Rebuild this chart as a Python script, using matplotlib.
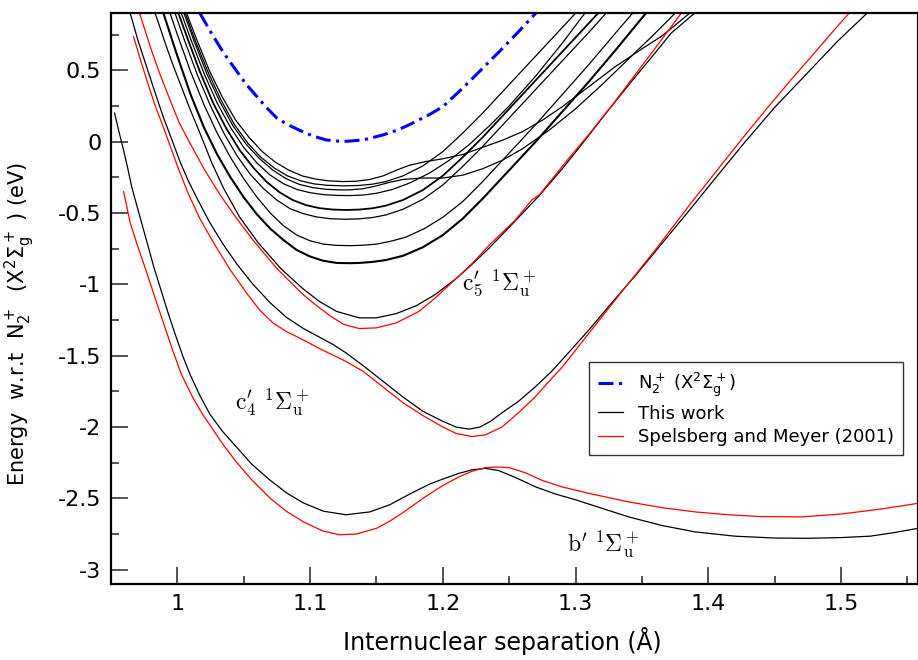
import matplotlib
matplotlib.use("Agg")
import matplotlib.pyplot as plt

plt.rcParams['axes.unicode_minus'] = False
plt.rcParams['font.family'] = 'DejaVu Sans'

# ---- data (x in Angstrom, y in eV) ----
# N2+ X state (blue dash-dot)
ion_x = [1.017, 1.025, 1.035, 1.045, 1.052, 1.06, 1.067, 1.075, 1.083, 1.092, 1.102, 1.112, 1.1245,
         1.14, 1.155, 1.167, 1.177, 1.19, 1.2, 1.215, 1.23, 1.245, 1.258, 1.27]
ion_y = [0.90, 0.77, 0.62, 0.49, 0.40, 0.315, 0.24, 0.165, 0.12, 0.08, 0.04, 0.012, 0.0,
         0.012, 0.047, 0.085, 0.129, 0.19, 0.245, 0.375, 0.514, 0.654, 0.78, 0.90]

# this work: b' state
bp_x = [0.9527, 0.956, 0.9595, 0.9627, 0.9657, 0.971, 0.977, 0.982, 0.988, 0.993, 0.998, 1.004, 1.0095,
        1.017, 1.0245, 1.034, 1.0445, 1.056, 1.0695, 1.082, 1.0945, 1.11, 1.127, 1.145, 1.16, 1.175,
        1.19, 1.2, 1.212, 1.222, 1.232, 1.242, 1.255, 1.27, 1.285, 1.30, 1.32, 1.34, 1.365, 1.39,
        1.42, 1.45, 1.475, 1.50, 1.522, 1.54, 1.558]
bp_y = [0.20, 0.07, -0.06, -0.19, -0.32, -0.50, -0.70, -0.87, -1.05, -1.20, -1.34, -1.50, -1.63,
        -1.78, -1.91, -2.03, -2.14, -2.26, -2.37, -2.46, -2.53, -2.59, -2.615, -2.595, -2.545, -2.47,
        -2.40, -2.365, -2.325, -2.30, -2.29, -2.305, -2.355, -2.42, -2.47, -2.51, -2.57, -2.63, -2.69, -2.735,
        -2.765, -2.778, -2.78, -2.775, -2.765, -2.74, -2.71]

# this work: c'4 state
c4_x = [0.9645, 0.97, 0.977, 0.983, 0.9895, 0.996, 1.002, 1.008, 1.015, 1.024, 1.0345, 1.045, 1.057,
        1.07, 1.082, 1.095, 1.107, 1.117, 1.127, 1.14, 1.155, 1.17, 1.185, 1.2, 1.21, 1.2196, 1.228,
        1.236, 1.2446, 1.257, 1.2695, 1.282, 1.2946, 1.31, 1.33, 1.345, 1.361, 1.387, 1.405, 1.427,
        1.45, 1.4746, 1.497, 1.5196]
c4_y = [0.90, 0.72, 0.52, 0.35, 0.17, 0.01, -0.14, -0.27, -0.40, -0.56, -0.72, -0.86, -1.00,
        -1.13, -1.23, -1.31, -1.37, -1.42, -1.48, -1.57, -1.68, -1.79, -1.89, -1.96, -2.00, -2.015, -2.00,
        -1.96, -1.90, -1.82, -1.72, -1.61, -1.48, -1.32, -1.10, -0.94, -0.76, -0.467, -0.26, -0.01,
        0.24, 0.48, 0.70, 0.90]

# this work: c'5 state
c5_x = [0.9833, 0.988, 0.992, 0.997, 1.002, 1.009, 1.017, 1.026, 1.035, 1.047, 1.061, 1.078, 1.0945,
        1.107, 1.12, 1.137, 1.15, 1.165, 1.18, 1.1945, 1.21, 1.222, 1.235, 1.25, 1.272, 1.29, 1.3046,
        1.323, 1.342, 1.358, 1.372, 1.3896]
c5_y = [0.90, 0.77, 0.66, 0.53, 0.41, 0.24, 0.06, -0.15, -0.33, -0.53, -0.71, -0.89, -1.03,
        -1.12, -1.19, -1.235, -1.235, -1.205, -1.15, -1.07, -0.96, -0.86, -0.745, -0.60, -0.385, -0.19, -0.02,
        0.20, 0.42, 0.60, 0.76, 0.90]

# this work: higher states, named A..G from the top minimum down
sA_x = [1.007, 1.014, 1.024, 1.034, 1.044, 1.054, 1.064, 1.074, 1.084, 1.094, 1.104, 1.114, 1.125,
        1.135, 1.145, 1.155, 1.165, 1.175, 1.187, 1.2, 1.215, 1.23, 1.245, 1.26, 1.275, 1.29, 1.31,
        1.33, 1.35, 1.365, 1.386]
sA_y = [0.90, 0.73, 0.50, 0.31, 0.15, 0.03, -0.07, -0.145, -0.20, -0.24, -0.262, -0.275, -0.28,
        -0.277, -0.265, -0.24, -0.20, -0.165, -0.14, -0.12, -0.09, -0.04, 0.01, 0.07, 0.15, 0.245, 0.385,
        0.526, 0.65, 0.74, 0.90]
sA2_x = [1.006, 1.013, 1.023, 1.033, 1.043, 1.053, 1.063, 1.073, 1.083, 1.093, 1.103, 1.113, 1.125,
         1.137, 1.147, 1.157, 1.17, 1.185, 1.2, 1.215, 1.23, 1.25, 1.27, 1.29, 1.30]
sA2_y = [0.90, 0.72, 0.49, 0.29, 0.12, -0.01, -0.11, -0.185, -0.24, -0.275, -0.296, -0.306, -0.31,
         -0.307, -0.298, -0.28, -0.24, -0.17, -0.07, 0.06, 0.20, 0.40, 0.60, 0.80, 0.90]
sB_x = [1.005, 1.012, 1.022, 1.032, 1.042, 1.052, 1.062, 1.072, 1.082, 1.092, 1.102, 1.112, 1.122, 1.13,
        1.14, 1.15, 1.16, 1.17, 1.185, 1.2, 1.215, 1.23, 1.245, 1.26, 1.28, 1.30, 1.32, 1.34, 1.36, 1.375]
sB_y = [0.90, 0.72, 0.48, 0.28, 0.11, -0.02, -0.12, -0.20, -0.26, -0.30, -0.322, -0.334, -0.338, -0.338,
        -0.33, -0.31, -0.285, -0.265, -0.255, -0.255, -0.235, -0.19, -0.13, -0.05, 0.08, 0.23, 0.40, 0.58, 0.76, 0.90]
sC_x = [1.003, 1.01, 1.02, 1.03, 1.04, 1.05, 1.06, 1.07, 1.08, 1.09, 1.1, 1.11, 1.12, 1.13,
        1.14, 1.15, 1.162, 1.175, 1.19, 1.205, 1.22, 1.235, 1.25, 1.27, 1.29, 1.307]
sC_y = [0.90, 0.72, 0.48, 0.27, 0.10, -0.04, -0.15, -0.235, -0.295, -0.335, -0.358, -0.371, -0.377, -0.378,
        -0.374, -0.362, -0.335, -0.29, -0.22, -0.13, -0.02, 0.11, 0.25, 0.46, 0.69, 0.90]
sD_x = [1.0008, 1.007, 1.017, 1.027, 1.037, 1.047, 1.057, 1.067, 1.077, 1.087, 1.097, 1.107, 1.117, 1.127,
        1.137, 1.147, 1.157, 1.17, 1.185, 1.2, 1.215, 1.23, 1.25, 1.27, 1.29, 1.31, 1.317]
sD_y = [0.90, 0.74, 0.49, 0.27, 0.09, -0.06, -0.18, -0.28, -0.355, -0.41, -0.445, -0.466, -0.476, -0.479,
        -0.476, -0.467, -0.449, -0.409, -0.339, -0.239, -0.109, 0.03, 0.23, 0.43, 0.63, 0.83, 0.90]
sE_x = [0.9983, 1.005, 1.015, 1.025, 1.035, 1.045, 1.055, 1.065, 1.075, 1.085, 1.095, 1.105, 1.115, 1.127,
        1.137, 1.147, 1.157, 1.17, 1.185, 1.2, 1.215, 1.23, 1.25, 1.27, 1.29, 1.31, 1.323]
sE_y = [0.90, 0.72, 0.47, 0.25, 0.06, -0.10, -0.23, -0.33, -0.41, -0.47, -0.505, -0.528, -0.54, -0.544,
        -0.541, -0.532, -0.514, -0.474, -0.404, -0.304, -0.174, -0.034, 0.166, 0.366, 0.566, 0.766, 0.90]
sF_x = [0.9945, 1.0, 1.01, 1.02, 1.03, 1.04, 1.05, 1.06, 1.07, 1.08, 1.09, 1.1, 1.11, 1.12, 1.13,
        1.14, 1.15, 1.16, 1.172, 1.186, 1.2, 1.215, 1.23, 1.25, 1.27, 1.29, 1.31, 1.33, 1.343]
sF_y = [0.90, 0.75, 0.49, 0.26, 0.06, -0.11, -0.26, -0.39, -0.50, -0.59, -0.655, -0.695, -0.718, -0.727, -0.729,
        -0.726, -0.718, -0.70, -0.67, -0.61, -0.53, -0.42, -0.28, -0.08, 0.12, 0.33, 0.54, 0.76, 0.90]
sG_x = [0.9895, 1.0, 1.01, 1.02, 1.03, 1.04, 1.05, 1.06, 1.07, 1.08, 1.09, 1.1, 1.11, 1.12, 1.13,
        1.137, 1.147, 1.157, 1.17, 1.185, 1.2, 1.215, 1.23, 1.25, 1.27, 1.29, 1.31, 1.33, 1.353]
sG_y = [0.90, 0.60, 0.33, 0.10, -0.09, -0.25, -0.39, -0.51, -0.61, -0.69, -0.76, -0.805, -0.835, -0.85, -0.852,
        -0.85, -0.843, -0.83, -0.80, -0.74, -0.655, -0.54, -0.40, -0.20, 0.0, 0.21, 0.42, 0.64, 0.90]

# Spelsberg and Meyer (2001)
sm_bp_x = [0.9595, 0.962, 0.9645, 0.97, 0.977, 0.983, 0.9895, 0.996, 1.003, 1.012, 1.019, 1.027, 1.035,
           1.044, 1.056, 1.07, 1.082, 1.095, 1.11, 1.122, 1.135, 1.15, 1.16, 1.17, 1.185, 1.2, 1.212,
           1.222, 1.232, 1.242, 1.25, 1.262, 1.275, 1.29, 1.31, 1.34, 1.365, 1.39, 1.415, 1.44, 1.47,
           1.50, 1.53, 1.558]
sm_bp_y = [-0.35, -0.46, -0.57, -0.73, -0.92, -1.09, -1.27, -1.45, -1.63, -1.80, -1.91, -2.02, -2.13,
           -2.24, -2.37, -2.50, -2.59, -2.665, -2.73, -2.755, -2.75, -2.71, -2.66, -2.60, -2.50, -2.41, -2.35,
           -2.31, -2.285, -2.28, -2.285, -2.32, -2.375, -2.42, -2.465, -2.525, -2.565, -2.595, -2.615, -2.628, -2.63,
           -2.61, -2.575, -2.535]
sm_c4_x = [0.967, 0.972, 0.977, 0.983, 0.9895, 0.995, 1.0, 1.008, 1.017, 1.028, 1.04, 1.052, 1.062,
           1.072, 1.082, 1.095, 1.107, 1.117, 1.127, 1.14, 1.155, 1.17, 1.185, 1.2, 1.21, 1.222, 1.232,
           1.2446, 1.257, 1.2695, 1.28, 1.29, 1.312, 1.335, 1.36, 1.387, 1.405, 1.4246, 1.443, 1.462,
           1.478, 1.4946, 1.506]
sm_c4_y = [0.735, 0.58, 0.43, 0.26, 0.10, -0.04, -0.17, -0.36, -0.54, -0.72, -0.90, -1.06, -1.18,
           -1.27, -1.33, -1.39, -1.45, -1.495, -1.54, -1.61, -1.72, -1.83, -1.92, -2.00, -2.045, -2.067, -2.055,
           -2.00, -1.90, -1.79, -1.68, -1.58, -1.32, -1.05, -0.76, -0.43, -0.22, 0.01, 0.22, 0.43,
           0.60, 0.78, 0.90]
sm_c5_x = [0.9715, 0.976, 0.9805, 0.985, 0.9895, 0.995, 1.0015, 1.0095, 1.02, 1.032, 1.044, 1.057, 1.075,
           1.0945, 1.105, 1.115, 1.125, 1.137, 1.15, 1.165, 1.182, 1.195, 1.21, 1.222, 1.235, 1.2545,
           1.267, 1.273, 1.2946, 1.31, 1.3296, 1.345, 1.3596, 1.3796]
sm_c5_y = [0.90, 0.77, 0.64, 0.52, 0.41, 0.28, 0.13, -0.01, -0.19, -0.37, -0.53, -0.69, -0.89,
           -1.07, -1.15, -1.22, -1.28, -1.31, -1.305, -1.27, -1.19, -1.09, -0.96, -0.855, -0.725, -0.55,
           -0.41, -0.37, -0.12, 0.05, 0.28, 0.47, 0.65, 0.90]

fig = plt.figure(figsize=(9.18, 6.60), dpi=100)
ax = fig.add_axes([0.1209, 0.1152, 0.8791, 0.8652])

ax.plot(ion_x, ion_y, color='blue', lw=2.2, dashes=(4.9, 1.8, 1.0, 1.8),
        label=r'N$_2^+$ (X$^2\Sigma_\mathrm{g}^+$)')

bk = dict(color='black', lw=0.9)
ax.plot(bp_x, bp_y, label='This work', **bk)
ax.plot(c4_x, c4_y, **bk)
ax.plot(c5_x, c5_y, **bk)
for xs, ys in [(sA_x, sA_y), (sA2_x, sA2_y), (sB_x, sB_y), (sC_x, sC_y), (sE_x, sE_y), (sF_x, sF_y)]:
    ax.plot(xs, ys, **bk)
ax.plot(sD_x, sD_y, color='black', lw=1.3)
ax.plot(sG_x, sG_y, color='black', lw=1.5)

rd = dict(color='red', lw=0.9)
ax.plot(sm_bp_x, sm_bp_y, label='Spelsberg and Meyer (2001)', **rd)
ax.plot(sm_c4_x, sm_c4_y, **rd)
ax.plot(sm_c5_x, sm_c5_y, **rd)

# state labels
lab = dict(fontsize=17, ha='center', va='center', math_fontfamily='cm')
ax.text(1.2423, -0.99, r"$\mathrm{c}_5'\ {}^1\Sigma_\mathrm{u}^+$", **lab)
ax.text(1.0713, -1.825, r"$\mathrm{c}_4'\ {}^1\Sigma_\mathrm{u}^+$", **lab)
ax.text(1.321, -2.826, r"$\mathrm{b}'\ {}^1\Sigma_\mathrm{u}^+$", **lab)

ax.set_xlim(0.9527, 1.558)
ax.set_ylim(-3.10, 0.902)
ax.set_xticks([1.0, 1.1, 1.2, 1.3, 1.4, 1.5])
ax.set_xticklabels(['1', '1.1', '1.2', '1.3', '1.4', '1.5'])
ax.set_xticks([0.95, 1.05, 1.15, 1.25, 1.35, 1.45, 1.55], minor=True)
ax.set_yticks([0.5, 0, -0.5, -1, -1.5, -2, -2.5, -3])
ax.set_yticklabels(['0.5', '0', '-0.5', '-1', '-1.5', '-2', '-2.5', '-3'])
ax.set_yticks([0.75, 0.25, -0.25, -0.75, -1.25, -1.75, -2.25, -2.75], minor=True)
ax.tick_params(which='both', direction='in', top=False, right=False, labelsize=16, width=1.3, color='#444444')
ax.tick_params(which='major', length=12, pad=7)
ax.tick_params(which='minor', length=6)
for s in ax.spines.values():
    s.set_linewidth(1.6)

ax.set_xlabel(u'Internuclear separation (\u00c5)', fontsize=17)
ax.xaxis.set_label_coords(0.4845, -0.075)
ax.set_ylabel(r'Energy  w.r.t  N$_2^+$  (X$^2\Sigma_\mathrm{g}^+$ ) (eV)', fontsize=15)
ax.yaxis.set_label_coords(-0.092, 0.455)

leg = ax.legend(loc='upper left', bbox_to_anchor=(0.6416, 0.4515), bbox_transform=fig.transFigure,
                fontsize=13, frameon=True, fancybox=False, handlelength=1.4, borderaxespad=0,
                borderpad=0.5, labelspacing=0.3, handletextpad=0.8)
leg.get_frame().set_edgecolor('black')
leg.get_frame().set_linewidth(1.0)

fig.savefig('out.png', dpi=100)
